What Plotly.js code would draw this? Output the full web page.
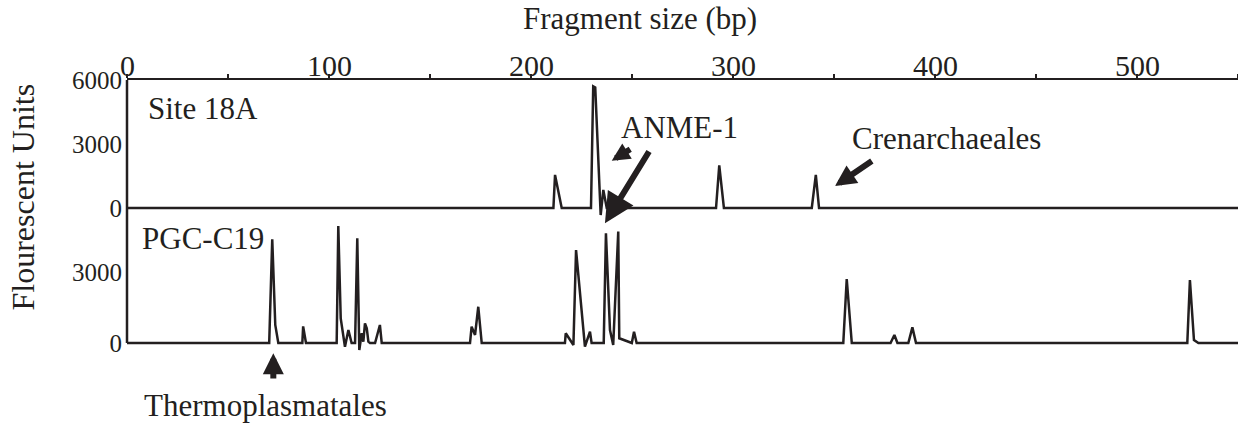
<!DOCTYPE html>
<html>
<head>
<meta charset="utf-8">
<script src="https://cdn.plot.ly/plotly-3.0.1.min.js"></script>
<style>
  html, body { margin: 0; padding: 0; background: #ffffff; }
  #chart { width: 1238px; height: 427px; }
</style>
</head>
<body>
<div id="chart"></div>
<script>
// Fragment sizes (bp) and fluorescent units
const site18A_bp = [0, 211.1, 211.9, 215.2, 229.7, 230.8, 231.8, 234.5, 235.8, 237.5,
                    291.6, 293.2, 295.5, 339.0, 341.0, 342.6, 550];
const site18A_fu = [0, 0, 1550, 0, 0, 5700, 5650, -330, 850, 0,
                    0, 2000, 0, 0, 1550, 0, 0];

const pgcC19_bp = [0, 70.4, 71.9, 73.4, 74.9, 86.8, 87.2, 88.6,
                   103.8, 104.6, 105.8, 107.9, 109.6, 111.2, 112.9, 114.0, 115.0, 116.2, 117.0,
                   117.8, 118.7, 119.5, 120.3, 122.8, 125.2, 126.1,
                   169.8, 170.6, 172.3, 173.9, 175.6,
                   216.8, 217.2, 221.0, 222.3, 226.7, 229.2, 230.0,
                   236.0, 237.1, 239.1, 240.7, 243.2, 243.7, 249.9, 251.0, 252.3,
                   354.6, 356.3, 358.8, 378.0, 379.9, 381.4, 386.8, 388.8, 390.6,
                   524.9, 526.2, 528.2, 530.4, 550];
const pgcC19_fu = [0, 0, 4380, 760, 0, 0, 700, 0,
                   0, 4940, 1040, -156, 550, 0, 0, 4420, -295, 410, 55,
                   830, 620, 55, 0, 0, 760, 0,
                   0, 690, 340, 1530, 0,
                   0, 410, -84, 3925, -156, 477, 0,
                   0, 4630, 550, -84, 4700, 200, 0, 477, 0,
                   0, 2700, 0, 0, 340, 0, 0, 660, 0,
                   0, 2660, 127, 0, 0];

const xTicks = [0, 100, 200, 300, 400, 500];
const xTickLabels = ['0', '100', '200', '300', '400', '500'];
const topYTicks = [0, 3000, 6000];
const bottomYTicks = [0, 3000];

const INK = '#231f20';
const FONT = 'Liberation Serif';

const traces = [
  { x: site18A_bp, y: site18A_fu, xaxis: 'x', yaxis: 'y', type: 'scatter', mode: 'lines',
    line: { color: INK, width: 2.5 }, hoverinfo: 'skip', showlegend: false },
  { x: pgcC19_bp, y: pgcC19_fu, xaxis: 'x', yaxis: 'y2', type: 'scatter', mode: 'lines',
    line: { color: INK, width: 2.5 }, hoverinfo: 'skip', showlegend: false }
];

function txt(text, x, y, size, extra) {
  return Object.assign({ text: text, x: x, y: y, xref: 'paper', yref: 'paper',
    xanchor: 'center', yanchor: 'middle', showarrow: false,
    font: { family: FONT, size: size, color: INK } }, extra || {});
}
function arrow(x, y, ax, ay, w, s) {
  return { text: '', x: x, y: y, xref: 'paper', yref: 'paper', ax: ax, ay: ay,
    showarrow: true, arrowhead: 2, arrowwidth: w, arrowsize: s, arrowcolor: INK, standoff: 0 };
}

// x tick labels sit tight against the top axis line, as in the reference
const xTickAnnotations = xTicks.map((v, i) => ({
  text: xTickLabels[i], x: v, xref: 'x', y: 1.0513, yref: 'paper',
  xanchor: 'center', yanchor: 'middle', showarrow: false, borderpad: 0,
  font: { family: FONT, size: 30, color: INK }
}));

const layout = {
  width: 1238, height: 427,
  margin: { l: 127, r: 0, t: 80, b: 74, pad: 0 },
  paper_bgcolor: '#ffffff', plot_bgcolor: 'rgba(0,0,0,0)',
  font: { family: FONT, color: INK },
  xaxis: {
    range: [0, 550], side: 'top', anchor: 'y',
    tickvals: xTicks, ticks: 'outside', ticklen: 4, tickwidth: 1.5, tickcolor: INK,
    showticklabels: false,
    minor: { dtick: 50, tick0: 0, ticks: 'outside', ticklen: 4, tickwidth: 1.5, tickcolor: INK, showgrid: false },
    showline: true, linewidth: 2.5, linecolor: INK,
    showgrid: false, zeroline: false
  },
  yaxis: {
    domain: [0.4945, 1], range: [-468.75, 6000], anchor: 'x',
    tickvals: topYTicks, ticks: '', showline: false, ticklabelstandoff: 4,
    showgrid: false, zeroline: false,
    tickfont: { family: FONT, size: 25, color: INK }
  },
  yaxis2: {
    domain: [0, 0.5311], range: [-422, 5697], anchor: 'x',
    tickvals: bottomYTicks, ticks: '', showline: false, ticklabelstandoff: 4,
    showgrid: false, zeroline: false,
    tickfont: { family: FONT, size: 25, color: INK }
  },
  shapes: [
    { type: 'line', xref: 'paper', yref: 'paper', x0: 0, x1: 0, y0: 0.0366, y1: 1,
      line: { color: INK, width: 2.5 } }
  ],
  annotations: [
    txt('Fragment size (bp)', 0.4617, 1.2260, 31),
    txt('Flourescent Units', -0.0936, 0.5696, 32, { textangle: -90 }),
    txt('Site 18A', 0.0684, 0.8938, 31),
    txt('PGC-C19', 0.0683, 0.4176, 31),
    txt('ANME-1', 0.4977, 0.8242, 31),
    txt('Crenarchaeales', 0.7375, 0.7864, 31),
    txt('Thermoplasmatales', 0.1251, -0.1941, 31),
    arrow(0.4363, 0.7044, 20, -12.4, 6, 0.6),
    arrow(0.4302, 0.4751, 45, -73.3, 6, 1),
    arrow(0.6373, 0.6117, 38.3, -26, 6, 0.7),
    arrow(0.1317, -0.0011, 0, 26.7, 6, 0.7)
  ].concat(xTickAnnotations)
};

Plotly.newPlot('chart', traces, layout, { staticPlot: true, displayModeBar: false });
</script>
</body>
</html>
